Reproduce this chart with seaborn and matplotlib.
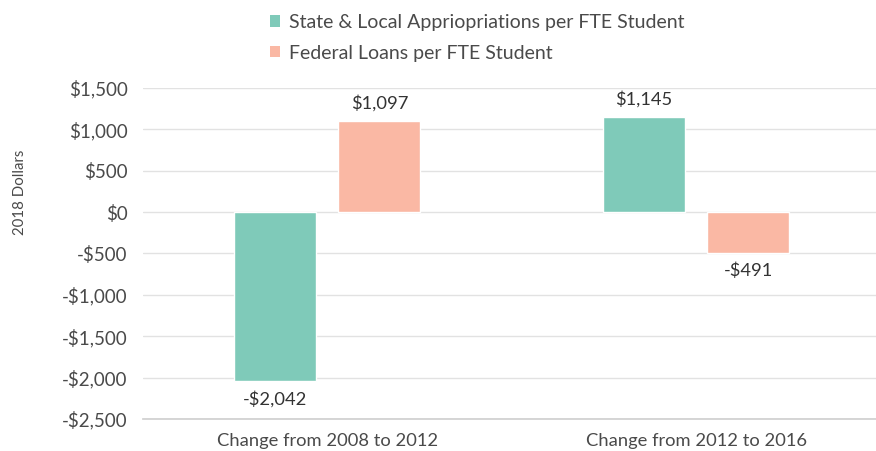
import matplotlib
matplotlib.use("Agg")
import matplotlib.pyplot as plt
import seaborn as sns
import pandas as pd
from matplotlib.patches import Patch

categories = ["Change from 2008 to 2012", "Change from 2012 to 2016"]
series = ["State & Local Appriopriations per FTE Student", "Federal Loans per FTE Student"]
state_local = [-2042, 1145]
federal = [1097, -491]
yticks = [1500, 1000, 500, 0, -500, -1000, -1500, -2000, -2500]
colors = ["#7fcab9", "#fab8a4"]

df = pd.DataFrame({
    "category": categories * 2,
    "series": [series[0]] * 2 + [series[1]] * 2,
    "value": state_local + federal,
})

sns.set_theme(style="white")
plt.rcParams["font.family"] = ["Lato", "DejaVu Sans"]
text_color = "#4a4a4a"

fig = plt.figure(figsize=(8.76, 4.51), dpi=100)
ax = fig.add_axes([0.163, 0.071, 0.837, 0.734])

sns.barplot(data=df, x="category", y="value", hue="series", order=categories,
            hue_order=series, palette=colors, width=0.566, gap=0.215,
            ax=ax, legend=False, saturation=1)

ax.set_ylim(-2500, 1500)
ax.set_xlim(-0.5, 1.488)
ax.set_yticks(yticks)
ax.set_yticklabels([("-$" if v < 0 else "$") + f"{abs(v):,}" for v in yticks],
                   fontsize=13.5, color=text_color)
ax.tick_params(axis="y", length=0, pad=11)
ax.tick_params(axis="x", length=0, pad=10, labelsize=13.2, labelcolor=text_color)
ax.grid(axis="y", color="#e2e2e2", linewidth=1)
ax.set_axisbelow(True)
for s in ["left", "right", "top"]:
    ax.spines[s].set_visible(False)
ax.spines["bottom"].set_color("#d0d0d0")
ax.spines["bottom"].set_position(("data", -2500))
ax.set_xlabel("")
ax.set_ylabel("2018 Dollars", fontsize=10.8, color=text_color)
ax.yaxis.set_label_coords(-0.158, 0.686)

for cont in ax.containers:
    labels = [("-$" if b.get_height() < 0 else "$") + f"{abs(int(round(b.get_height()))):,}" for b in cont]
    ax.bar_label(cont, labels=labels, padding=7, fontsize=13.2, color="#333333")

handles = [Patch(facecolor=c, edgecolor="none") for c in colors]
fig.legend(handles, series, loc="upper left", bbox_to_anchor=(0.288, 1.008),
           frameon=False, fontsize=14, labelcolor=text_color,
           handlelength=0.55, handleheight=0.55, handletextpad=0.45, labelspacing=0.7)

fig.savefig("out.png", dpi=100)
